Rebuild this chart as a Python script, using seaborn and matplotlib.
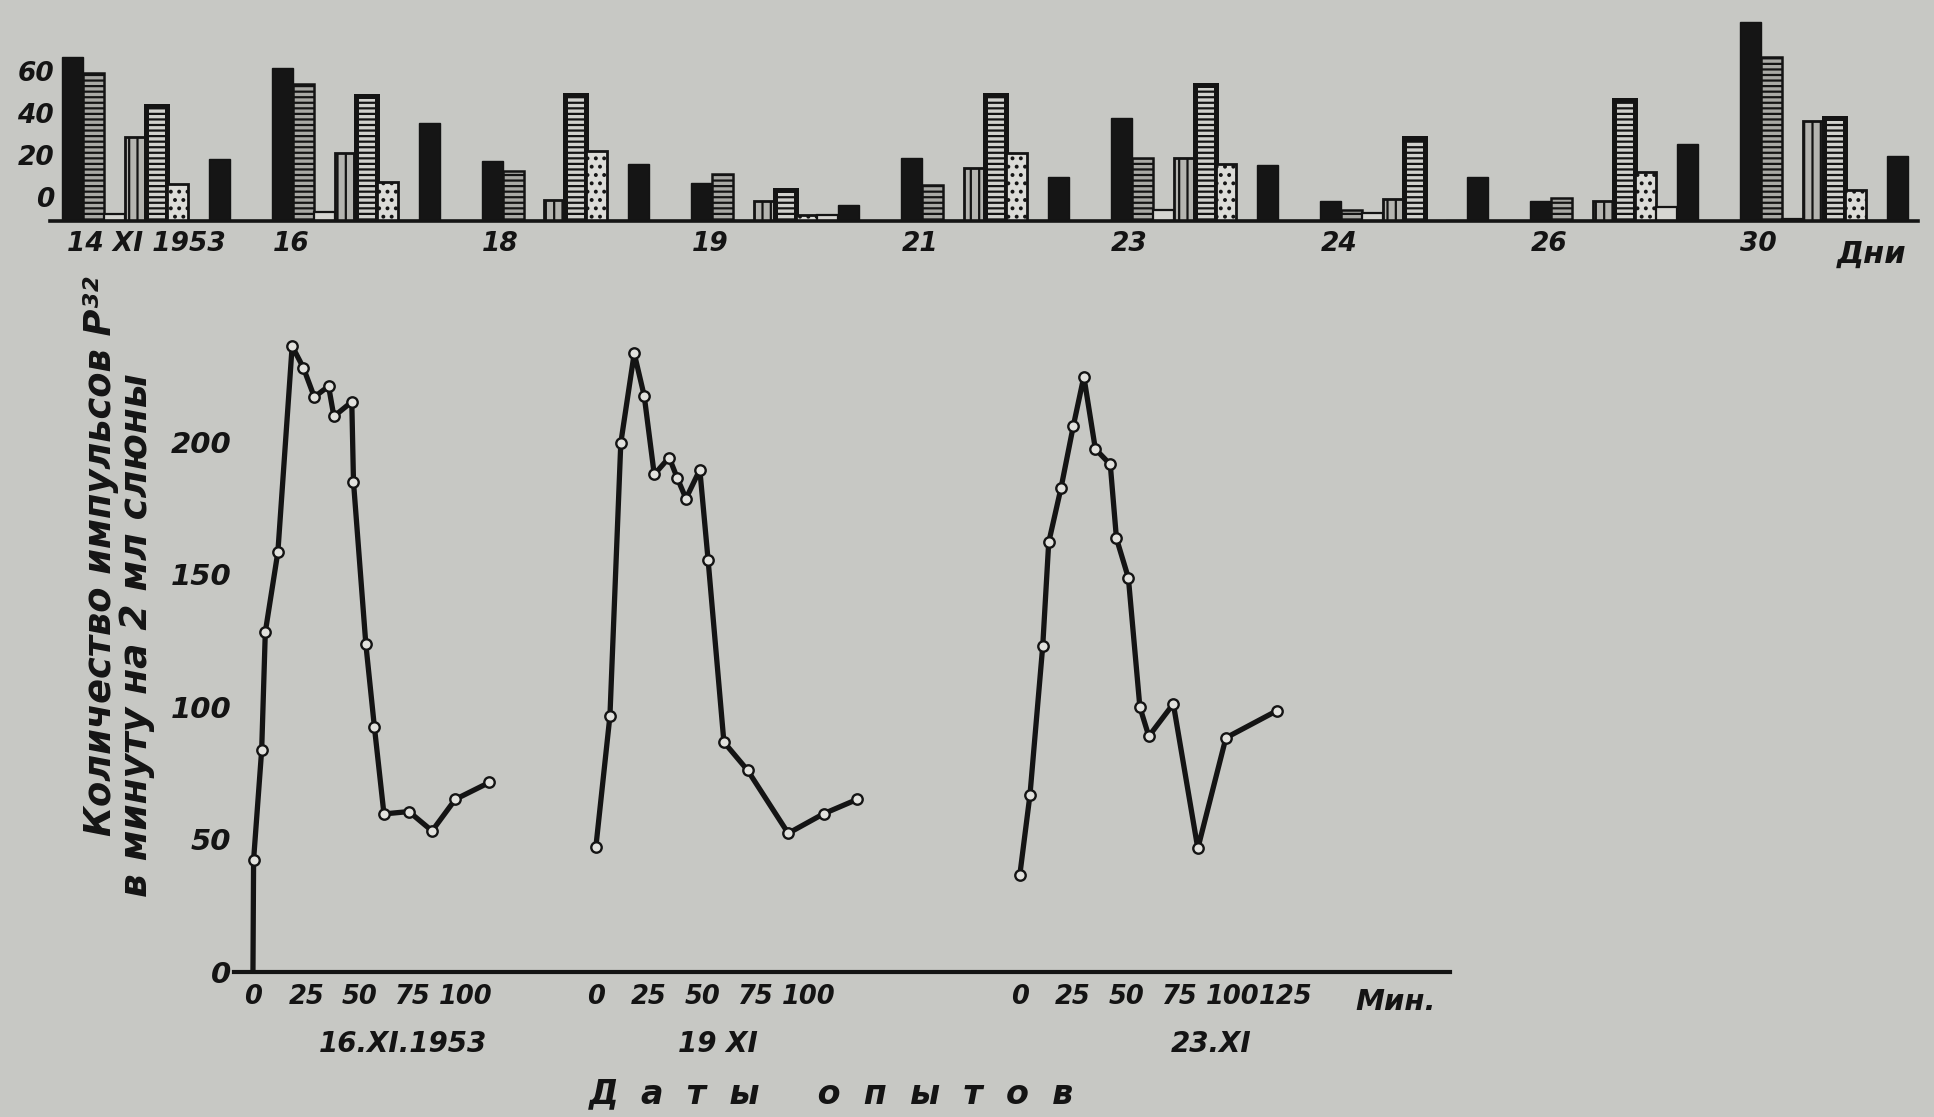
import numpy as np
import pandas as pd
import matplotlib
matplotlib.use("Agg")
import matplotlib.pyplot as plt
import seaborn as sns

# ---------------- data: top bar chart (heights above the baseline) ----------------
days = ["14 XI 1953", "16", "18", "19", "21", "23", "24", "26", "30"]
slot_names = ["s1", "s2", "s3", "s4", "s5", "s6", "s7", "s8"]
s1_black = [80.6, 75.2, 29.7, 18.8, 31.2, 50.5, 9.7, 9.7, 98.0]
s2_hstripe = [72.7, 67.3, 24.8, 23.0, 17.8, 31.2, 5.5, 11.5, 80.8]
s3_plain = [3.6, 4.2, 0.0, 0.0, 0.0, 5.5, 4.0, 0.0, 1.0]
s4_vstripe = [41.2, 33.3, 10.3, 9.7, 26.0, 30.9, 10.9, 9.7, 49.2]
s5_ladder = [56.4, 61.2, 62.0, 15.2, 62.0, 67.0, 40.6, 59.6, 50.5]
s6_dotted = [18.2, 19.4, 34.5, 3.0, 33.3, 27.9, 0.0, 24.2, 15.3]
s7_flat = [0.0, 0.0, 0.0, 3.0, 0.0, 0.0, 0.0, 6.7, 0.0]
s8_black = [30.3, 48.1, 27.9, 7.9, 21.4, 27.3, 21.8, 37.6, 31.7]
bar_ytick_labels = ["0", "20", "40", "60"]

# ---------------- data: bottom line chart (minutes, counts) ----------------
t1 = [0, 0.3, 4.1, 5.8, 11.7, 18.4, 23.7, 28.8, 35.5, 38.0, 46.4, 47.2, 53.0, 57.0, 61.5, 73.2, 84.1, 95.0, 111.0]
v1 = [0, 42.3, 83.8, 128.2, 158.4, 236.0, 227.8, 216.8, 220.9, 209.5, 215.0, 184.8, 123.6, 92.5, 59.6, 60.5, 53.2, 65.1, 71.5]
t2 = [0, 6.6, 11.7, 18.0, 22.7, 27.4, 34.4, 38.3, 42.3, 48.8, 52.7, 60.1, 71.2, 90.3, 107.0, 122.7]
v2 = [47.2, 96.6, 199.5, 233.3, 217.2, 187.6, 194.0, 186.1, 178.5, 189.4, 155.2, 86.7, 76.1, 52.3, 59.7, 65.1]
t3 = [0, 4.8, 10.8, 13.6, 19.4, 25.1, 30.1, 35.5, 42.5, 45.4, 51.0, 56.4, 60.6, 72.1, 83.6, 96.8, 120.7]
v3 = [36.4, 66.8, 123.0, 162.0, 182.6, 205.7, 224.5, 197.2, 191.4, 163.5, 148.6, 99.9, 88.9, 101.1, 46.6, 88.3, 98.5]
exp_dates = ["16.XI.1953", "19 XI", "23.XI"]
exp_ticks = [[0, 25, 50, 75, 100], [0, 25, 50, 75, 100], [0, 25, 50, 75, 100, 125]]
line_yticks = [0, 50, 100, 150, 200]

# ---------------- style ----------------
BG = "#c7c8c4"
INK = "#141414"
sns.set_theme(style="white")
plt.rcParams["font.family"] = ["DejaVu Sans"]
plt.rcParams["font.weight"] = "bold"
plt.rcParams["font.style"] = "oblique"
plt.rcParams["hatch.linewidth"] = 1.6
plt.rcParams["text.color"] = INK
plt.rcParams["xtick.color"] = INK
plt.rcParams["ytick.color"] = INK

W, H = 1934, 1117
fig = plt.figure(figsize=(W / 100, H / 100), dpi=100, facecolor=BG)

def frac_box(left, top, right, bottom):
    return [left / W, 1 - bottom / H, (right - left) / W, (bottom - top) / H]

# ---------------- top: bar chart ----------------
ax1 = fig.add_axes(frac_box(50, 7.3, 1918, 221))
ax1.set_facecolor(BG)
series = [s1_black, s2_hstripe, s3_plain, s4_vstripe, s5_ladder, s6_dotted, s7_flat, s8_black]
rows = []
for name, vals in zip(slot_names, series):
    for d, v in zip(days, vals):
        rows.append({"day": d, "slot": name, "value": v})
bars = pd.DataFrame(rows)

face = ["#151515", "#a9a9a5", "#d6d6d2", "#b4b4b0", "#d2d2ce", "#dcdcd8", "#d6d6d2", "#151515"]
sns.barplot(data=bars, x="day", y="value", hue="slot", order=days, hue_order=slot_names,
            palette=dict(zip(slot_names, face)), width=0.8, gap=0, dodge=True,
            legend=False, saturation=1, ax=ax1)
hatches = [None, "---", None, "||", "---", "..", None, None]
edge_w = [1.0, 1.8, 1.6, 2.0, 3.6, 2.0, 1.6, 1.0]
for cont, h, lw in zip(ax1.containers, hatches, edge_w):
    for p in cont.patches:
        p.set_edgecolor(INK)
        p.set_linewidth(lw)
        if h:
            p.set_hatch(h)

ax1.set_xlim(-0.458, 8.45)
ax1.set_ylim(0, 105)
ax1.set_xlabel("")
ax1.set_ylabel("")
ax1.set_yticks([12, 32.5, 53, 73.5])
ax1.set_yticklabels(bar_ytick_labels, fontsize=19)
tick_x = [0.0] + [k - 0.31 for k in range(1, len(days))]
ax1.set_xticks(tick_x)
ax1.set_xticklabels(days, fontsize=19)
ax1.tick_params(axis="x", length=0, pad=7)
ax1.tick_params(axis="y", length=0, pad=-3)
for s in ["top", "right", "left"]:
    ax1.spines[s].set_visible(False)
ax1.spines["bottom"].set_color(INK)
ax1.spines["bottom"].set_linewidth(2.6)
fig.text(1872 / W, 1 - 254 / H, "Дни", ha="center", va="center", fontsize=22)

# ---------------- bottom: line chart ----------------
ax2 = fig.add_axes(frac_box(234, 309, 1450, 972))
ax2.set_facecolor("none")
offsets = [0, 161, 360]
line_data = [(t1, v1), (t2, v2), (t3, v3)]
for i, ((tt, vv), off) in enumerate(zip(line_data, offsets)):
    df = pd.DataFrame({"t": np.asarray(tt) + off, "v": vv})
    kws = dict(marker="o", markersize=7.5, markerfacecolor="#e2e2de", markeredgecolor=INK,
               markeredgewidth=1.7)
    if i == 0:
        kws["markevery"] = list(range(1, len(tt)))
    sns.lineplot(data=df, x="t", y="v", estimator=None, sort=False, color=INK,
                 linewidth=3.8, ax=ax2, **kws)

ax2.set_xlim(-8.9, 562)
ax2.set_ylim(0, 250)
ax2.set_xlabel("")
ax2.set_ylabel("")
xt, xl = [], []
for off, ticks in zip(offsets, exp_ticks):
    for t in ticks:
        xt.append(off + t)
        xl.append(str(t))
ax2.set_xticks(xt)
ax2.set_xticklabels(xl, fontsize=18.5)
ax2.set_yticks(line_yticks)
ax2.set_yticklabels([str(v) for v in line_yticks], fontsize=21)
ax2.tick_params(axis="x", length=0, pad=9)
ax2.tick_params(axis="y", length=0, pad=2)
for s in ["top", "right", "left"]:
    ax2.spines[s].set_visible(False)
ax2.spines["bottom"].set_color(INK)
ax2.spines["bottom"].set_linewidth(3.0)

fig.text(1396 / W, 1 - 1002 / H, "Мин.", ha="center", va="center", fontsize=21)
for label, cx in zip(exp_dates, [403, 718, 1211]):
    fig.text(cx / W, 1 - 1044 / H, label, ha="center", va="center", fontsize=20)
fig.text(831 / W, 1 - 1094 / H, "Д  а  т  ы     о  п  ы  т  о  в", ha="center", va="center",
         fontsize=24)

fig.text(101 / W, 1 - 556 / H, "Количество импульсов P³²", rotation=90,
         ha="center", va="center", fontsize=26.5)
fig.text(137 / W, 1 - 635 / H, "в минуту на 2 мл слюны", rotation=90,
         ha="center", va="center", fontsize=27)

fig.savefig("out.png", dpi=100, facecolor=BG)
